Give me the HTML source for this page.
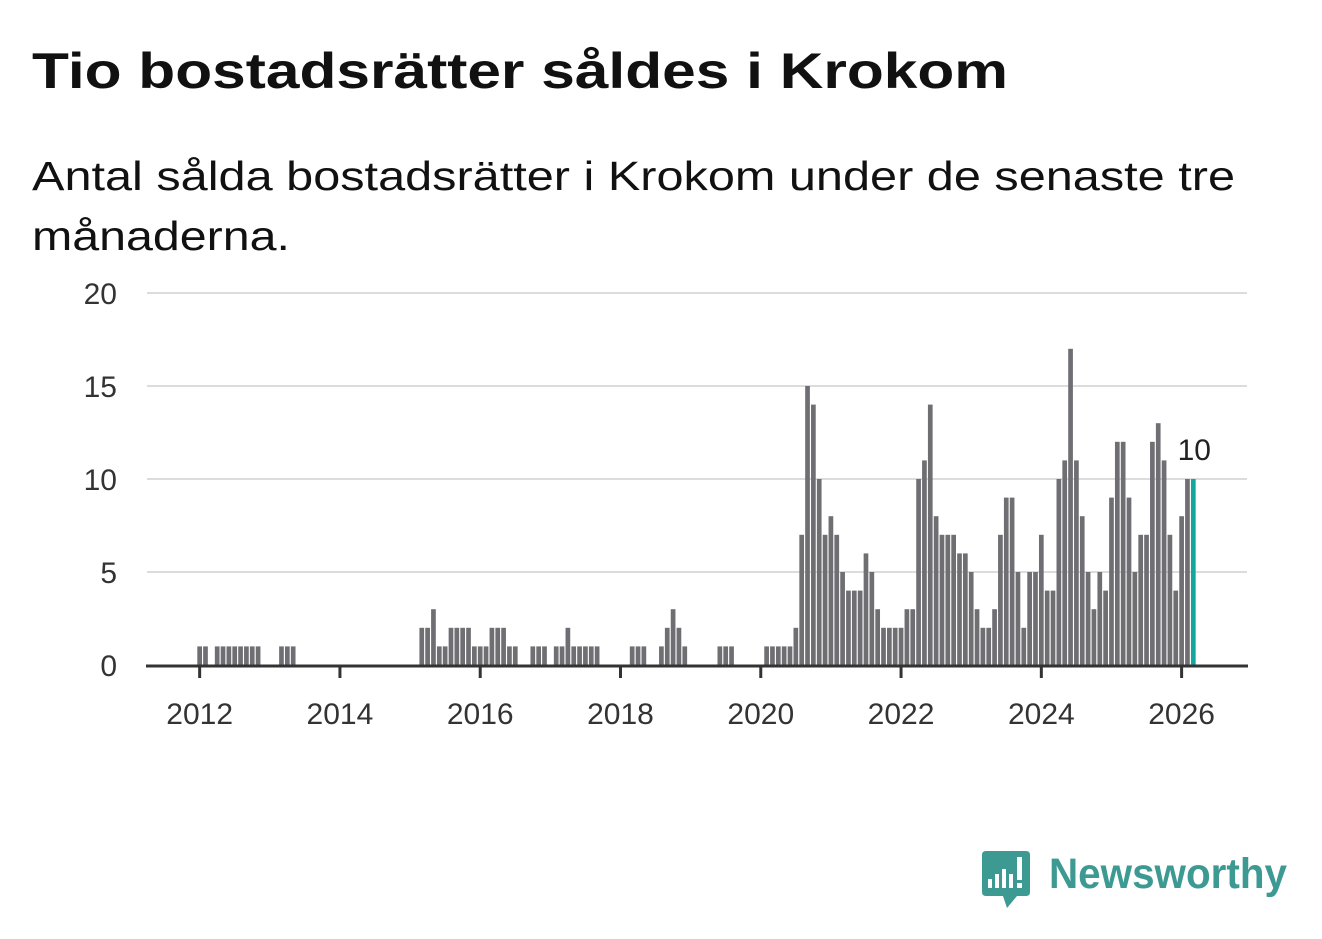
<!DOCTYPE html>
<html><head><meta charset="utf-8">
<style>
html,body{margin:0;padding:0;background:#fff;}
svg{display:block;font-family:"Liberation Sans",sans-serif;}
</style></head>
<body>
<svg id="chart" width="1322" height="939" viewBox="0 0 1322 939">
  <text x="32" y="88" font-size="50" font-weight="bold" fill="#111" textLength="976" lengthAdjust="spacingAndGlyphs">Tio bostadsrätter såldes i Krokom</text>
  <text x="32" y="190" font-size="41" fill="#111" textLength="1203" lengthAdjust="spacingAndGlyphs">Antal sålda bostadsrätter i Krokom under de senaste tre</text>
  <text x="32" y="250" font-size="41" fill="#111" textLength="258" lengthAdjust="spacingAndGlyphs">månaderna.</text>
  <g id="grid"></g>
  <g id="bars"></g>
  <g id="axes"></g>
  <g>
    <path d="M986 851 H1026 Q1030 851 1030 855 V892 Q1030 896 1026 896 H1017 L1007 908 L1003 896 H986 Q982 896 982 892 V855 Q982 851 986 851 Z" fill="#3d9a93"/>
    <rect x="988" y="879" width="4" height="9" fill="#fff"/>
    <rect x="995" y="874" width="4" height="14" fill="#fff"/>
    <rect x="1002" y="869" width="4" height="19" fill="#fff"/>
    <rect x="1009" y="874" width="4" height="14" fill="#fff"/>
    <rect x="1017" y="857" width="5" height="23" fill="#fff"/>
    <rect x="1017" y="883" width="5" height="5" fill="#fff"/>
    <text x="1049" y="888" font-size="43" font-weight="bold" fill="#3d9a93" textLength="238" lengthAdjust="spacingAndGlyphs">Newsworthy</text>
  </g>
</svg>
<script>
const startYear = 2012;
const values = [
1,1,0,1,1,1,1,1,1,1,1,0,
0,0,1,1,1,0,0,0,0,0,0,0,
0,0,0,0,0,0,0,0,0,0,0,0,
0,0,2,2,3,1,1,2,2,2,2,1,
1,1,2,2,2,1,1,0,0,1,1,1,
0,1,1,2,1,1,1,1,1,0,0,0,
0,0,1,1,1,0,0,1,2,3,2,1,
0,0,0,0,0,1,1,1,0,0,0,0,
0,1,1,1,1,1,2,7,15,14,10,7,
8,7,5,4,4,4,6,5,3,2,2,2,
2,3,3,10,11,14,8,7,7,7,6,6,
5,3,2,2,3,7,9,9,5,2,5,5,
7,4,4,10,11,17,11,8,5,3,5,4,
9,12,12,9,5,7,7,12,13,11,7,4,
8,10,10
];
const yTicks = [0,5,10,15,20];
const xTickYears = [2012,2014,2016,2018,2020,2022,2024,2026];

const NS = "http://www.w3.org/2000/svg";
const x0 = 197.3, step = 5.845, barW = 4.7;
const yBase = 665, yTop = 293, yMax = 20;
function xScale(m){ return x0 + m*step; }
function yScale(v){ return yBase - (v/yMax)*(yBase-yTop); }
function mk(tag, attrs, parent){
  const el = document.createElementNS(NS, tag);
  for (const k in attrs) el.setAttribute(k, attrs[k]);
  parent.appendChild(el);
  return el;
}
const grid = document.getElementById('grid');
const bars = document.getElementById('bars');
const axes = document.getElementById('axes');
yTicks.forEach(t => {
  if (t > 0) {
    const l = mk('line', {x1:147, x2:1247, y1:yScale(t), y2:yScale(t), stroke:'#dcdcdc', 'stroke-width':2}, grid);
    
    
  }
  const tx = mk('text', {x:117, y:yScale(t)+11, 'font-size':30, fill:'#333', 'text-anchor':'end'}, axes);
  tx.textContent = t;
  
  
});
const last = values.length - 1;
values.forEach((v, i) => {
  if (v <= 0) return;
  const r = mk('rect', {x:xScale(i), y:yScale(v), width:barW, height:yBase - yScale(v), fill: i === last ? '#13a89e' : '#6f6e73'}, bars);
  
  
});
const lbl = mk('text', {x:xScale(last)+barW/2 + 1, y:yScale(values[last]) - 19, 'font-size':30, fill:'#222', 'text-anchor':'middle'}, axes);
lbl.textContent = values[last];


const base = mk('line', {x1:146, x2:1248, y1:yBase+1, y2:yBase+1, stroke:'#333', 'stroke-width':3}, axes);


xTickYears.forEach(y => {
  const cx = xScale((y - startYear)*12) + barW/2;
  const tk = mk('line', {x1:cx, x2:cx, y1:yBase, y2:yBase+13, stroke:'#333', 'stroke-width':3}, axes);
  
  
  const tx = mk('text', {x:cx, y:724, 'font-size':30, fill:'#333', 'text-anchor':'middle'}, axes);
  tx.textContent = y;
  
  
});
</script>
</body></html>
